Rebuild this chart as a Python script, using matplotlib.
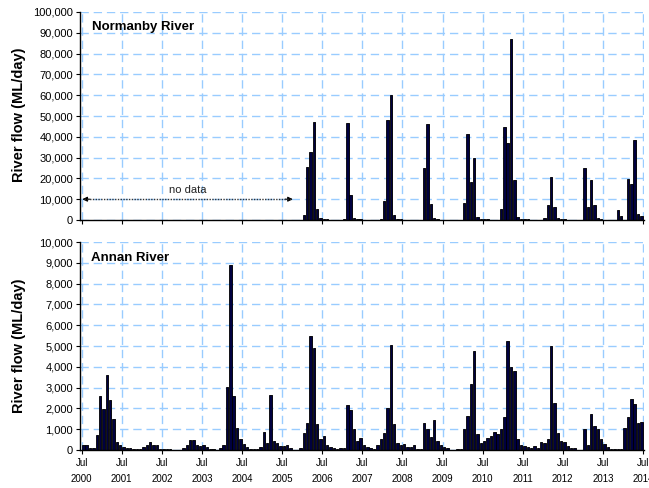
import numpy as np
import matplotlib
matplotlib.use("Agg")
import matplotlib.pyplot as plt
from matplotlib.ticker import FuncFormatter, MultipleLocator

plt.rcParams['font.family'] = ['Liberation Sans', 'DejaVu Sans']

# monthly mean flow, Jul 2000 .. Jun 2014 (ML/day)
annan = [
    # Jul 2000 - Jun 2001
    230, 230, 100, 100, 720, 2580, 1960, 3610, 2380, 1490, 370, 240,
    # Jul 2001 - Jun 2002
    150, 100, 80, 70, 50, 50, 140, 250, 370, 260, 260, 60,
    # Jul 2002 - Jun 2003
    60, 60, 60, 20, 20, 20, 100, 250, 470, 500, 260, 190,
    # Jul 2003 - Jun 2004
    225, 160, 65, 30, 20, 100, 225, 3030, 8900, 2600, 1080, 510,
    # Jul 2004 - Jun 2005
    290, 130, 65, 65, 30, 130, 880, 350, 2650, 420, 320, 210,
    # Jul 2005 - Jun 2006
    190, 225, 100, 15, 15, 100, 830, 1280, 5490, 4900, 1240, 530,
    # Jul 2006 - Jun 2007
    675, 260, 160, 80, 30, 100, 100, 2150, 1930, 1010, 450, 590,
    # Jul 2007 - Jun 2008
    260, 160, 100, 65, 225, 545, 820, 2040, 5060, 1250, 320, 225,
    # Jul 2008 - Jun 2009
    290, 130, 130, 225, 65, 65, 1320, 1030, 640, 1440, 450, 225,
    # Jul 2009 - Jun 2010
    130, 100, 15, 0, 30, 65, 1000, 1650, 3180, 4770, 750, 340,
    # Jul 2010 - Jun 2011
    450, 560, 675, 880, 770, 1000, 1570, 5230, 3980, 3800, 510, 225,
    # Jul 2011 - Jun 2012
    190, 130, 100, 190, 115, 385, 350, 545, 4980, 2260, 820, 420,
    # Jul 2012 - Jun 2013
    370, 190, 100, 100, 15, 15, 1030, 225, 1750, 1160, 1030, 545,
    # Jul 2013 - Jun 2014
    305, 130, 50, 30, 65, 65, 1080, 1590, 2440, 2200, 1320, 1350,
]

# Normanby: no data before Jan 2006
normanby_from_jan2006 = [
    # Jan - Jun 2006
    2560, 25500, 32700, 47100, 5500, 1000,
    # Jul 2006 - Jun 2007
    700, 400, 200, 0, 0, 0, 600, 46600, 11800, 1100, 400, 300,
    # Jul 2007 - Jun 2008
    0, 0, 0, 0, 0, 400, 9200, 47900, 60100, 2500, 400, 300,
    # Jul 2008 - Jun 2009
    0, 0, 0, 0, 0, 0, 24800, 46300, 7500, 900, 300, 200,
    # Jul 2009 - Jun 2010
    0, 0, 0, 0, 0, 0, 8100, 41300, 18400, 29700, 1500, 300,
    # Jul 2010 - Jun 2011
    300, 300, 0, 0, 0, 5100, 44700, 37000, 86900, 19400, 1600, 500,
    # Jul 2011 - Jun 2012
    400, 400, 0, 0, 0, 0, 800, 7400, 20800, 6400, 800, 300,
    # Jul 2012 - Jun 2013
    300, 0, 0, 0, 0, 0, 25000, 6200, 19400, 7200, 800, 300,
    # Jul 2013 - Jun 2014
    0, 0, 0, 0, 4800, 1900, 0, 19900, 17500, 38500, 2900, 2100,
]
no_data_months = 66
normanby = [np.nan] * no_data_months + normanby_from_jan2006

years = list(range(2000, 2015))
tick_labels = ["Jul\n%d" % y for y in years]

n = len(annan)
x = np.arange(n) + 0.5

W, H = 649, 488
fig = plt.figure(figsize=(W / 100, H / 100), dpi=100)

def px_axes(l, t, r, b):
    return fig.add_axes([l / W, 1 - b / H, (r - l) / W, (b - t) / H])

ax1 = px_axes(80, 12, 644, 220)
ax2 = px_axes(80, 242, 644, 450)

bar_col = '#000040'
shadow_col = '#a0a0a0'
grid_col = '#99ccff'

def draw(ax, vals, ymax, ystep):
    v = np.array(vals, dtype=float)
    ax.bar(x + 0.3, v, width=0.72, color=shadow_col, linewidth=0, zorder=2)
    ax.bar(x, v, width=0.72, color=bar_col, edgecolor='black', linewidth=0.6, zorder=3)
    ax.set_xlim(-0.5, n + 0.3)
    ax.set_ylim(0, ymax)
    ax.yaxis.set_major_locator(MultipleLocator(ystep))
    ax.yaxis.set_major_formatter(FuncFormatter(lambda val, p: format(int(val), ',')))
    ax.set_xticks(np.arange(0, n + 1, 12))
    ax.set_axisbelow(True)
    ax.grid(True, color=grid_col, linestyle=(0, (6, 3.5)), linewidth=1)
    for s in ('top', 'right'):
        ax.spines[s].set_visible(False)
    for s in ('left', 'bottom'):
        ax.spines[s].set_color('black')
        ax.spines[s].set_linewidth(1)
        ax.spines[s].set_zorder(5)
    ax.tick_params(axis='y', direction='out', length=3, width=0.8, labelsize=8, pad=2)
    ax.tick_params(axis='x', direction='out', length=3, width=0.8, labelsize=7, pad=3)

draw(ax1, normanby, 100000, 10000)
draw(ax2, annan, 10000, 1000)

ax1.tick_params(axis='x', labelbottom=False)
ax2.set_xticklabels(tick_labels, linespacing=1.75)

ax1.text(0.021, 0.928, "Normanby River", transform=ax1.transAxes,
         fontsize=9.5, fontweight='bold', va='center', ha='left')
ax2.text(0.0195, 0.925, "Annan River", transform=ax2.transAxes,
         fontsize=9.5, fontweight='bold', va='center', ha='left')

# no data arrow
ax1.plot([0.6, 62.6], [10000, 10000], color='#333333', linestyle=(0, (1, 1)),
         linewidth=1, zorder=4)
ax1.annotate("", xy=(0.2, 10000), xytext=(2.5, 10000),
             arrowprops=dict(arrowstyle='-|>', color='black', lw=0.8,
                             mutation_scale=7, shrinkA=0, shrinkB=0))
ax1.annotate("", xy=(63.2, 10000), xytext=(60.9, 10000),
             arrowprops=dict(arrowstyle='-|>', color='black', lw=0.8,
                             mutation_scale=7, shrinkA=0, shrinkB=0))
ax1.text(31.8, 14500, "no data", fontsize=8, ha='center', va='center', color='#222222')

fig.text(19 / W, 1 - 115 / H, "River flow (ML/day)", rotation=90,
         fontsize=10.5, fontweight='bold', ha='center', va='center')
fig.text(19 / W, 1 - 346 / H, "River flow (ML/day)", rotation=90,
         fontsize=10.5, fontweight='bold', ha='center', va='center')

fig.savefig("out.png", dpi=100)
